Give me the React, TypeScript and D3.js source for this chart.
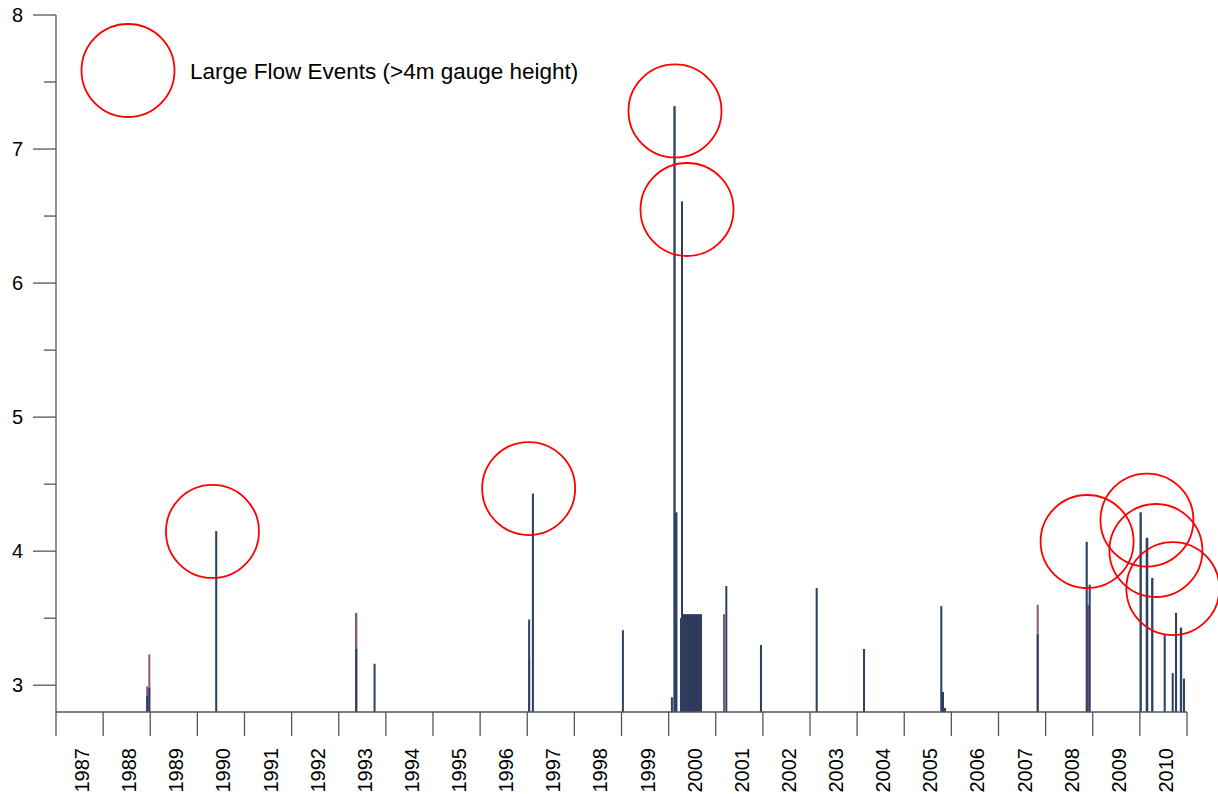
import React from "react";
import * as d3 from "d3";

const years = d3.range(1987, 2011);
const yMajorTicks = [3, 4, 5, 6, 7, 8];
const yMinorTicks = [3.5, 4.5, 5.5, 6.5, 7.5];

// Main gauge series (navy): decimal year, gauge height (m), duration (days)
const navyYear = [1988.935, 1988.98, 1990.4, 1993.37, 1993.76, 1997.04, 1997.12, 1999.03, 2000.07, 2000.125, 2000.157, 2000.284, 2001.224, 2001.96, 2003.142, 2004.146, 2005.786, 2005.822, 2005.865, 2007.832, 2008.872, 2008.935, 2010.017, 2010.151, 2010.263, 2010.527, 2010.697, 2010.767, 2010.873, 2010.936];
const navyValue = [2.92, 2.98, 4.15, 3.27, 3.16, 3.49, 4.43, 3.41, 2.91, 7.32, 4.29, 6.61, 3.74, 3.3, 3.725, 3.27, 3.59, 2.95, 2.83, 3.38, 4.07, 3.75, 4.29, 4.1, 3.8, 3.38, 3.09, 3.54, 3.43, 3.05];
const navyDays = [12, 12, 16, 16, 14, 14, 16, 14, 15, 18, 22, 14, 14, 16, 16, 16, 16, 16, 12, 12, 16, 16, 18, 20, 18, 16, 16, 16, 18, 14];

// Sustained high water in 2000 (navy blocks)
const blockStart = [2000.241, 2000.305];
const blockEnd = [2000.305, 2000.708];
const blockValue = [3.5, 3.53];

// Secondary series (maroon)
const maroonYear = [1988.935, 1988.98, 1993.37, 1997.04, 2001.175, 2007.832, 2008.9];
const maroonValue = [2.99, 3.23, 3.54, 3.2, 3.53, 3.6, 3.6];
const maroonDays = [14, 14, 18, 12, 14, 14, 14];

// Large flow event markers
const circleYear = [1990.32, 1997.03, 2000.135, 2000.39, 2008.88, 2010.15, 2010.34, 2010.7];
const circleValue = [4.147, 4.467, 7.284, 6.549, 4.072, 4.232, 4.005, 3.721];

const legendLabel = "Large Flow Events (>4m gauge height)";

const W = 1218;
const H = 794;
const left = 56;
const right = 1187;
const top = 15;
const bottom = 712;
const yMin = 2.8;
const yMax = 8;

const navyColor = "#2c4264";
const maroonColor = "#7a3a5c";
const axisColor = "#555555";
const font = "Liberation Sans, Arial, sans-serif";

export default function App() {
  const x = d3.scaleLinear().domain([1987, 2011]).range([left, right]);
  const y = d3.scaleLinear().domain([yMin, yMax]).range([bottom, top]);
  const pxPerDay = (x(1988) - x(1987)) / 365;
  const r = 46.5;

  const barRect = (yr: number, v: number, days: number, color: string, key: string, opacity = 1) => {
    const w = Math.max(2, days * pxPerDay);
    return (
      <rect
        key={key}
        x={x(yr) - w / 2}
        y={y(v)}
        width={w}
        height={y(yMin) - y(v)}
        fill={color}
        opacity={opacity}
      />
    );
  };

  return (
    <svg
      width={W}
      height={H}
      style={{ position: "absolute", left: 0, top: 0, background: "#fff" }}
      fontFamily={font}
    >
      {maroonYear.map((yr, i) => barRect(yr, maroonValue[i], maroonDays[i], maroonColor, "m" + i, 0.85))}
      {blockStart.map((s, i) => (
        <rect
          key={"b" + i}
          x={x(s)}
          y={y(blockValue[i])}
          width={x(blockEnd[i]) - x(s)}
          height={y(yMin) - y(blockValue[i])}
          fill="#2e3b5c"
        />
      ))}
      {navyYear.map((yr, i) => barRect(yr, navyValue[i], navyDays[i], navyColor, "n" + i))}

      <line x1={left} x2={left} y1={top} y2={bottom} stroke={axisColor} strokeWidth={1.3} />
      {yMajorTicks.map((t) => (
        <g key={"ym" + t}>
          <line x1={left - 23} x2={left} y1={y(t)} y2={y(t)} stroke={axisColor} strokeWidth={1.3} />
          <text x={23} y={y(t)} dy="0.35em" textAnchor="end" fontSize={20} fill="#000">
            {t}
          </text>
        </g>
      ))}
      {yMinorTicks.map((t) => (
        <line key={"yn" + t} x1={left - 12} x2={left} y1={y(t)} y2={y(t)} stroke={axisColor} strokeWidth={1.3} />
      ))}

      <line x1={left} x2={right} y1={bottom} y2={bottom} stroke={axisColor} strokeWidth={1.3} />
      {d3.range(1987, 2012).map((t) => (
        <line key={"xt" + t} x1={x(t)} x2={x(t)} y1={bottom} y2={bottom + 24} stroke={axisColor} strokeWidth={1.3} />
      ))}
      {years.map((t) => {
        const cx = x(t + 0.5) + 2.5;
        const cy = 748;
        return (
          <text
            key={"xl" + t}
            transform={`translate(${cx},${cy}) rotate(-90)`}
            textAnchor="end"
            dy="0.35em"
            fontSize={20}
            fill="#000"
          >
            {t}
          </text>
        );
      })}

      {circleYear.map((yr, i) => (
        <circle key={"c" + i} cx={x(yr)} cy={y(circleValue[i])} r={r} fill="none" stroke="#ff0000" strokeWidth={1.8} />
      ))}

      <circle cx={128} cy={70.5} r={r} fill="none" stroke="#ff0000" strokeWidth={1.8} />
      <text x={190} y={79} fontSize={22.5} fill="#000">
        {legendLabel}
      </text>
    </svg>
  );
}
